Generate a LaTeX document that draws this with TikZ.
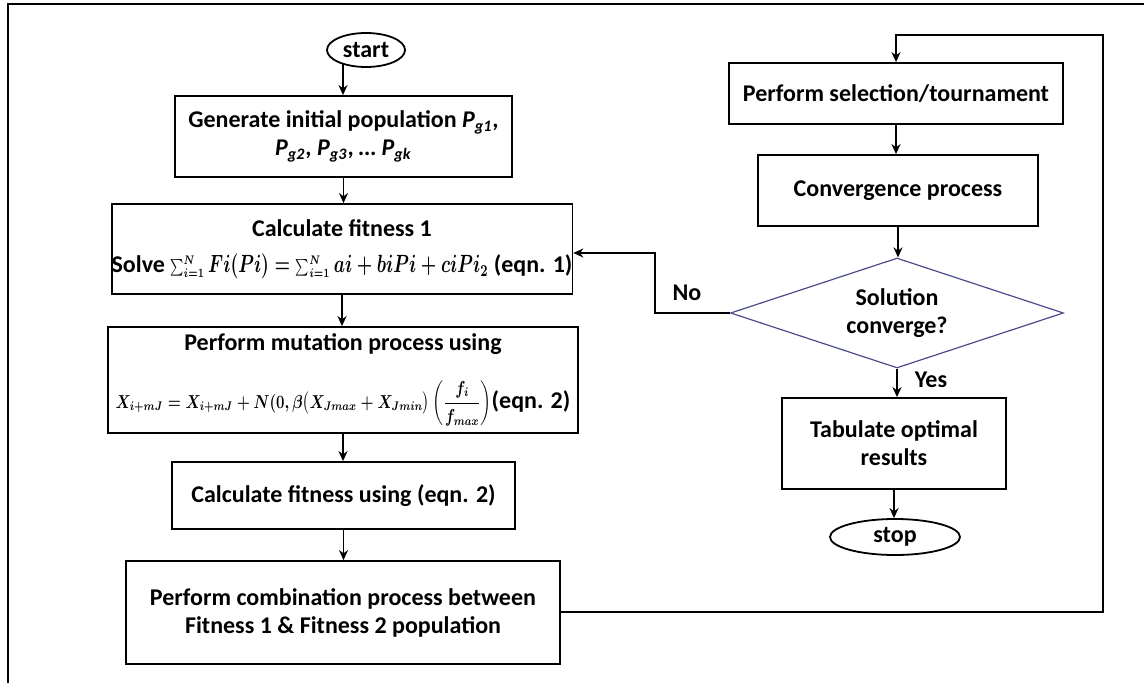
\documentclass[tikz,border=0pt]{standalone}
\usepackage{amsmath,bm,graphicx}
\usepackage{fontspec}
\setmainfont{Carlito}
\usetikzlibrary{shapes.geometric,arrows.meta}
\begin{document}
\begin{tikzpicture}[x=0.5pt,y=-0.5pt,
  font=\fontsize{12}{14}\selectfont\bfseries,
  box/.style={draw=black,line width=0.9pt,rectangle,inner sep=0pt,align=center},
  term/.style={draw=black,line width=0.9pt,ellipse,inner sep=0pt},
  dec/.style={draw=blue!35!black!70,line width=0.6pt,diamond,inner sep=0pt,aspect=3,align=center},
  conn/.style={line width=0.9pt,-{Stealth[length=5pt,width=4.5pt]}},
  line/.style={line width=0.9pt}]
\useasboundingbox (0,0) rectangle (1144,683);
\draw[line width=1pt] (8,683) -- (8,4) -- (1144,4);

% left column
\node[term,minimum width=39pt,minimum height=17pt] (start) at (366,50) {start};
\node[box,minimum width=168.5pt,minimum height=40.5pt] (gen) at (343.5,136.5)
  {Generate initial population \textit{P}\textsubscript{\textit{g1}},\\[0pt]
   \textit{P}\textsubscript{\textit{g2}}, \textit{P}\textsubscript{\textit{g3}}, \textit{\dots{} P}\textsubscript{\textit{gk}}};
\node[box,minimum width=214pt,minimum height=45pt] (fit1) at (342,249)
  {Calculate fitness 1\\[4pt]
   Solve \scalebox{1}[1.4]{\resizebox{159pt}{!}{\boldmath$\scriptstyle\sum_{i=1}^{N}\textstyle Fi(Pi) =\;\scriptstyle\sum_{i=1}^{N}\textstyle ai + biPi + ciPi_{2}$}} (eqn. 1)};
\node[box,minimum width=235pt,minimum height=53pt] (mut) at (343,380)
  {Perform mutation process using\\[12pt]
   \scalebox{1}[1.25]{\resizebox{188pt}{!}{\boldmath$X_{i+mJ} = X_{i+mJ} + N(0,\beta\bigl(X_{Jmax} + X_{Jmin}\bigr)\left(\dfrac{f_i}{f_{max}}\right)$}}(eqn. 2)};
\node[box,minimum width=171.5pt,minimum height=33.5pt] (fit2) at (343.5,495.5)
  {Calculate fitness using (eqn. 2)};
\node[box,minimum width=217pt,minimum height=51.5pt] (comb) at (343,612.5)
  {Perform combination process between\\Fitness 1 \& Fitness 2 population};

% right column
\node[box,minimum width=167pt,minimum height=30.5pt] (sel) at (896,93.5)
  {Perform selection/tournament};
\node[box,minimum width=140pt,minimum height=35.5pt] (conv) at (898,190.5)
  {Convergence process};
\node[dec,minimum width=166.5pt,minimum height=55pt] (dia) at (897,313)
  {Solution\\converge?};
\node[box,minimum width=112pt,minimum height=45.5pt] (tab) at (894,443.5)
  {Tabulate optimal\\results};
\node[term,minimum width=65pt,minimum height=18pt] (stop) at (895,537) {stop};

% connectors
\coordinate (s0) at (343,64);
\draw[conn] (s0) -- (s0 |- gen.north);
\draw[conn] (gen) -- (gen |- fit1.north);
\draw[conn] (fit1) -- (fit1 |- mut.north);
\draw[conn] (mut) -- (mut |- fit2.north);
\draw[conn] (fit2) -- (fit2 |- comb.north);

\coordinate (c1) at (1103,612);
\coordinate (c2) at (1103,35);
\coordinate (c3) at (896,35);
\draw[conn] (comb.east |- c1) -- (c1) -- (c2) -- (c3) -- (sel.north);

\draw[conn] (sel) -- (sel |- conv.north);
\draw[conn] (conv) -- (conv |- dia.north);
\draw[conn] (dia.south) -- (dia.south |- tab.north);
\draw[conn] (tab) -- (tab |- stop.north);

\coordinate (n1) at (655,313);
\coordinate (n2) at (655,253);
\draw[conn] (dia.west) -- (n1) -- (n2) -- (fit1.east |- n2);

\node[anchor=center] (no) at (687,293) {No};
\node[anchor=center] (yes) at (931,380) {Yes};
\end{tikzpicture}
\end{document}
